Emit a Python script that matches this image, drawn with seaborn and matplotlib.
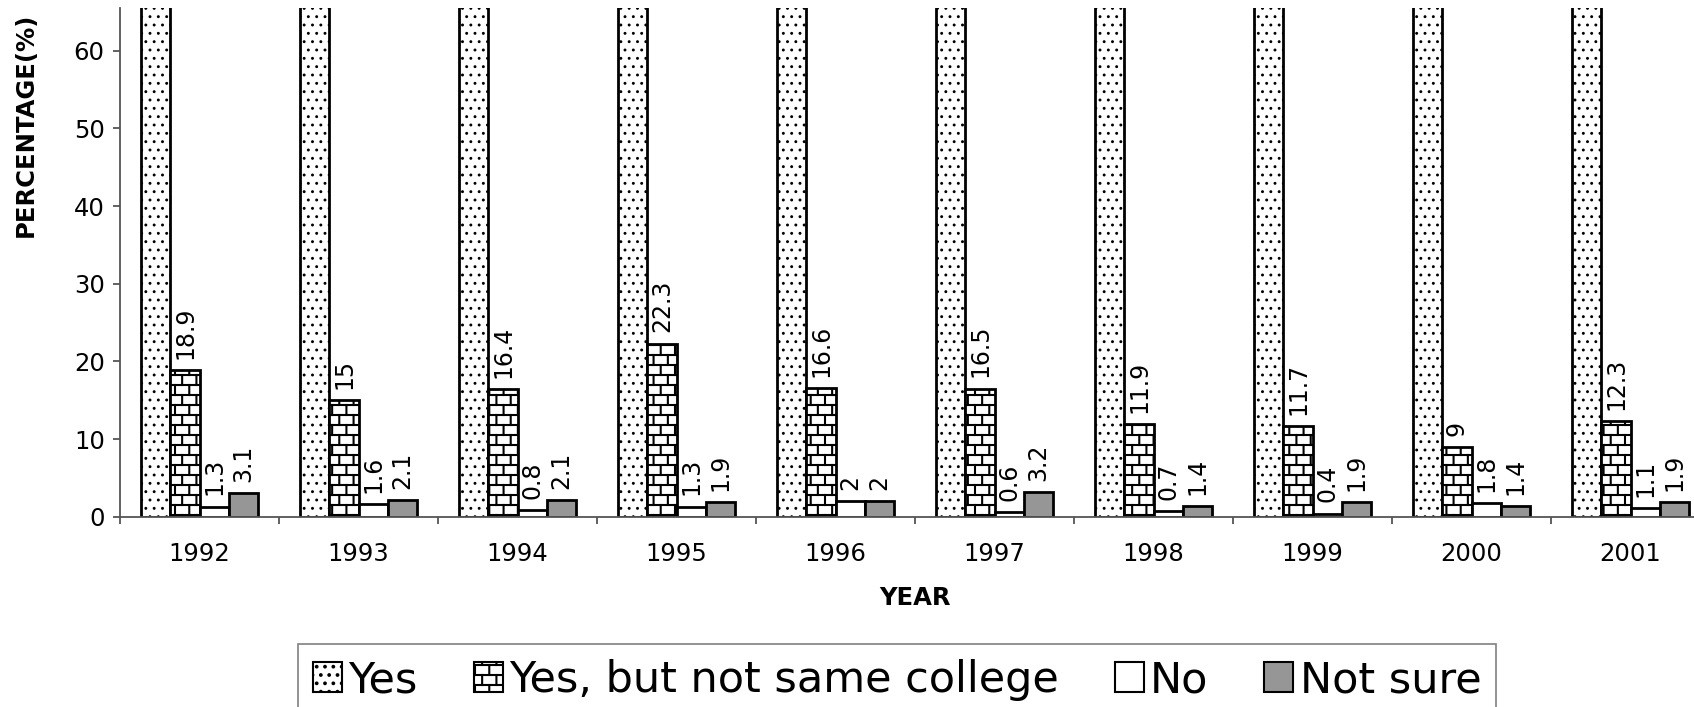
import warnings

import matplotlib.pyplot as plt
import numpy as np
import pandas as pd
import seaborn as sns
from matplotlib import hatch as mhatch
from matplotlib.patches import Patch
from matplotlib.path import Path
from matplotlib.ticker import FixedLocator

warnings.filterwarnings("ignore", message="hatch must consist")

years = ["1992", "1993", "1994", "1995", "1996", "1997", "1998", "1999", "2000", "2001"]
# "Yes" bars run off the top of the chart, values are estimates
yes = [76.7, 81.3, 80.7, 74.5, 79.4, 79.7, 86.0, 86.0, 87.8, 84.7]
yes_other = [18.9, 15, 16.4, 22.3, 16.6, 16.5, 11.9, 11.7, 9, 12.3]
no = [1.3, 1.6, 0.8, 1.3, 2, 0.6, 0.7, 0.4, 1.8, 1.1]
not_sure = [3.1, 2.1, 2.1, 1.9, 2, 3.2, 1.4, 1.9, 1.4, 1.9]
series = ["Yes", "Yes, but not same college", "No", "Not sure"]

fills = {"Yes": "white", "Yes, but not same college": "white", "No": "white", "Not sure": "#969696"}
hatches = {"Yes": "..", "Yes, but not same college": "b", "No": None, "Not sure": None}
hatch_widths = {"Yes": 0.9, "Yes, but not same college": 1.5, "No": 1.0, "Not sure": 1.0}


class BrickHatch(mhatch.HatchPatternBase):
    # simple brick wall pattern, selected with the letter "b"
    def __init__(self, hatch, density):
        self.rows = 10 * hatch.count("b")
        self.cols = 7
        self.num_vertices = (self.rows * (1 + self.cols) + self.cols) * 2 if self.rows else 0

    def set_vertices_and_codes(self, vertices, codes):
        h = 1.0 / self.rows
        w = 1.0 / self.cols
        segs = []
        for r in range(self.rows):
            y0 = r * h + h / 2
            segs.append(((0, y0), (1, y0)))
            shift = w / 4 + (w / 2) * (r % 2)
            for c in range(self.cols):
                x = c * w + shift
                segs.append(((x, y0), (x, y0 + h)))
        shift = w / 4 + (w / 2) * ((self.rows - 1) % 2)
        for c in range(self.cols):
            x = c * w + shift
            segs.append(((x, 0), (x, h / 2)))
        vertices[:] = np.array(segs).reshape(-1, 2)
        codes[0::2] = Path.MOVETO
        codes[1::2] = Path.LINETO


mhatch._hatch_types.append(BrickHatch)

sns.set_theme(style="white")
plt.rcParams["font.family"] = ["DejaVu Sans"]
plt.rcParams["hatch.linewidth"] = 1.5
for key in ["text.color", "axes.labelcolor", "xtick.labelcolor", "ytick.labelcolor"]:
    plt.rcParams[key] = "black"

df = pd.DataFrame({
    "year": years * 4,
    "series": np.repeat(series, len(years)),
    "value": yes + yes_other + no + not_sure,
})

fig = plt.figure(figsize=(16.94, 7.07), dpi=100)
ax = fig.add_axes([120 / 1694, (707 - 516.7) / 707, 1590 / 1694, (516.7 - 8) / 707])

sns.barplot(data=df, x="year", y="value", hue="series", hue_order=series,
            palette=fills, edgecolor="black", linewidth=2, width=0.73, gap=0,
            saturation=1, errorbar=None, legend=False, ax=ax)

for name, cont in zip(series, ax.containers):
    for bar in cont:
        bar.set_hatch(hatches[name])
        if hasattr(bar, "set_hatch_linewidth"):
            bar.set_hatch_linewidth(hatch_widths[name])
    if name != "Yes":
        ax.bar_label(cont, fmt="%g", rotation=90, padding=8, fontsize=17, color="black")

ax.set_ylim(0, 65.5)
ax.set_xlim(-0.5, len(years) - 0.5)
ax.set_yticks(range(0, 61, 10))
ax.xaxis.set_minor_locator(FixedLocator(np.arange(len(years) + 1) - 0.5))

for side in ["top", "right"]:
    ax.spines[side].set_visible(False)
for side in ["left", "bottom"]:
    ax.spines[side].set_color("#555555")
    ax.spines[side].set_linewidth(1.3)

ax.tick_params(axis="x", which="major", length=0, pad=18, labelsize=17.5, labelcolor="black")
ax.tick_params(axis="x", which="minor", bottom=True, length=5, width=1.3, color="#555555")
ax.tick_params(axis="y", left=True, length=5, width=1.3, color="#555555", pad=6,
               labelsize=17.5, labelcolor="black")

ax.set_xlabel("YEAR", fontweight="bold", fontsize=17.5)
ax.set_ylabel("PERCENTAGE(%)", fontweight="bold", fontsize=17.5)
ax.xaxis.set_label_coords(0.5, -0.137)
ax.yaxis.set_label_coords(-0.052, 0.77)

handles = [Patch(facecolor=fills[s], edgecolor="black", hatch=hatches[s], linewidth=1.5) for s in series]
leg = fig.legend(handles, series, loc="upper left", bbox_to_anchor=(298 / 1694, 1 - 644 / 707),
                 ncol=4, fontsize=31, handlelength=0.67, handleheight=0.7, handletextpad=0.15,
                 columnspacing=1.3, borderpad=0.35, borderaxespad=0, frameon=True,
                 fancybox=False, edgecolor="#808080", framealpha=1)
leg.get_frame().set_linewidth(1.2)

fig.savefig("out.png", dpi=100)
plt.close(fig)
